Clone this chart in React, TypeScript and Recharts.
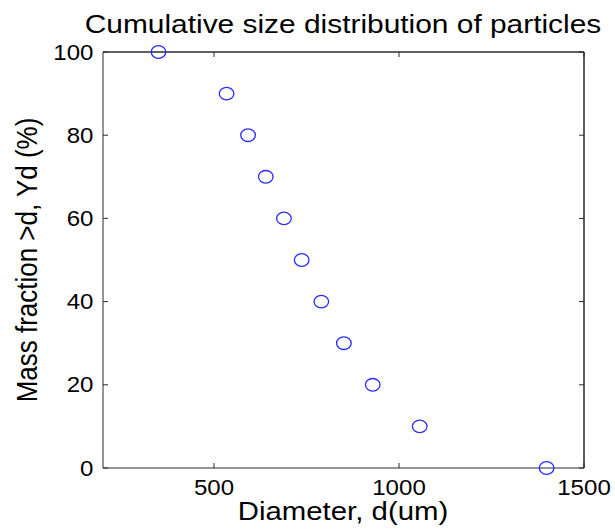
import React from 'react';
import { ScatterChart, Scatter, XAxis, YAxis, Label, ReferenceLine } from 'recharts';

const diameters = [350, 534, 592, 640, 689, 737, 790, 851, 929, 1056, 1399];
const massFractions = [100, 90, 80, 70, 60, 50, 40, 30, 20, 10, 0];
const xTicks = [500, 1000, 1500];
const yTicks = [0, 20, 40, 60, 80, 100];
const xDomain = [200, 1500];
const yDomain = [0, 100];
const titleText = 'Cumulative size distribution of particles';
const xLabelText = 'Diameter, d(um)';
const yLabelText = 'Mass fraction >d, Yd (%)';

const data = diameters.map((d, i) => ({ d, y: massFractions[i] }));

const FONT = 'Arial, "Liberation Sans", sans-serif';
const AXIS = '#2b2b2b';

function SText(props: any) {
  const { x, y, sx, size, anchor, rotate, dy, children } = props;
  const t = `translate(${x},${y}) scale(${sx},1)` + (rotate ? ` rotate(${rotate})` : '');
  return (
    <text transform={t} x={0} y={0} dy={dy} textAnchor={anchor} fontFamily={FONT} fontSize={size} fill="#000">
      {children}
    </text>
  );
}

const XTick = (props: any) => (
  <SText x={props.x} y={props.y} dy="0.71em" anchor="middle" size={21.5} sx={1.12}>
    {props.payload.value}
  </SText>
);

const YTick = (props: any) => (
  <SText x={props.x} y={props.y} dy="0.355em" anchor="end" size={21.5} sx={1.12}>
    {props.payload.value}
  </SText>
);

const NoTick = () => <g />;

const Marker = (props: any) => (
  <ellipse cx={props.cx} cy={props.cy} rx={7.3} ry={6.3} fill="none" stroke="#2a2aff" strokeWidth={1.3} />
);

const Hidden = () => <g />;

export default function App() {
  return (
    <div style={{ position: 'absolute', left: 0, top: 0, background: '#fff' }}>
      <ScatterChart width={615} height={532} margin={{ top: 51, right: 30, bottom: 0, left: 0 }}>
        <XAxis
          xAxisId="bottom"
          dataKey="d"
          type="number"
          domain={xDomain}
          ticks={xTicks}
          orientation="bottom"
          height={64}
          stroke={AXIS}
          tickSize={-5}
          tickMargin={17}
          tickLine={{ stroke: AXIS }}
          tick={<XTick />}
          label={
            <Label
              content={() => (
                <g>
                  <SText x={343} y={520} anchor="middle" size={26} sx={1.13}>
                    {xLabelText}
                  </SText>
                  <SText x={343} y={33} anchor="middle" size={26} sx={1.15}>
                    {titleText}
                  </SText>
                </g>
              )}
            />
          }
        />
        <XAxis
          xAxisId="top"
          dataKey="d"
          type="number"
          domain={xDomain}
          ticks={xTicks}
          orientation="top"
          height={1}
          stroke={AXIS}
          tickSize={-5}
          tickMargin={0}
          tickLine={{ stroke: AXIS }}
          tick={<NoTick />}
        />
        <YAxis
          yAxisId="left"
          dataKey="y"
          type="number"
          domain={yDomain}
          ticks={yTicks}
          orientation="left"
          width={103}
          stroke={AXIS}
          tickSize={-5}
          tickMargin={14.5}
          tickLine={{ stroke: AXIS }}
          tick={<YTick />}
          label={
            <Label
              content={() => (
                <SText x={36.5} y={260} anchor="middle" size={26} sx={1.15} rotate={-90}>
                  {yLabelText}
                </SText>
              )}
            />
          }
        />
        <YAxis
          yAxisId="right"
          dataKey="y"
          type="number"
          domain={yDomain}
          ticks={yTicks}
          orientation="right"
          width={1}
          stroke={AXIS}
          tickSize={-5}
          tickMargin={0}
          tickLine={{ stroke: AXIS }}
          tick={<NoTick />}
        />
        <ReferenceLine xAxisId="bottom" yAxisId="left" y={yDomain[1]} stroke={AXIS} />
        <ReferenceLine xAxisId="bottom" yAxisId="left" x={xDomain[1]} stroke={AXIS} />
        <Scatter
          data={data}
          xAxisId="top"
          yAxisId="right"
          shape={<Hidden />}
          isAnimationActive={false}
        />
        <Scatter
          data={data}
          xAxisId="bottom"
          yAxisId="left"
          shape={<Marker />}
          isAnimationActive={false}
        />
      </ScatterChart>
    </div>
  );
}
